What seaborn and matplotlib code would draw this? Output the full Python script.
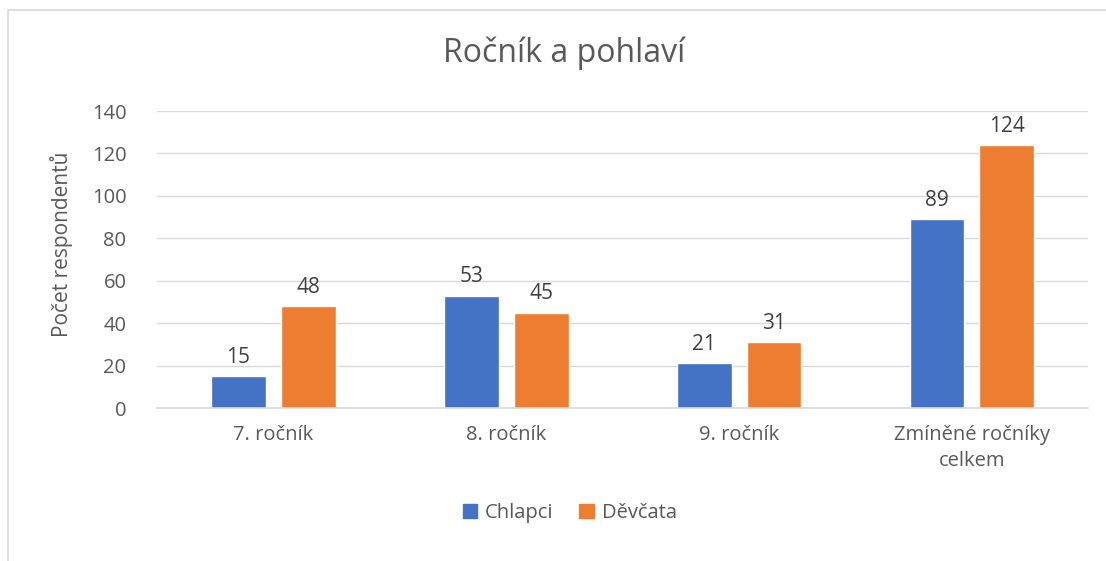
import matplotlib
matplotlib.use("Agg")
import matplotlib.pyplot as plt
import seaborn as sns
import pandas as pd
from matplotlib.patches import Rectangle, Patch

categories = ["7. ročník", "8. ročník", "9. ročník", "Zmíněné ročníky\ncelkem"]
series_names = ["Chlapci", "Děvčata"]
chlapci = [15, 53, 21, 89]
devcata = [48, 45, 31, 124]
yticks = [0, 20, 40, 60, 80, 100, 120, 140]

colors = ["#4472C4", "#ED7D31"]
text_color = "#595959"

sns.set_theme(style="white")
plt.rcParams["font.family"] = ["Open Sans", "DejaVu Sans"]

df = pd.DataFrame({
    "cat": categories * 2,
    "series": [series_names[0]] * 4 + [series_names[1]] * 4,
    "val": chlapci + devcata,
})

fig = plt.figure(figsize=(11.06, 5.61), dpi=100)
ax = fig.add_axes([0.142, 0.2727, 0.842, 0.5294])

sns.barplot(data=df, x="cat", y="val", hue="series", hue_order=series_names,
            order=categories, palette=colors, width=0.60, gap=0.214,
            saturation=1, ax=ax, legend=False)

ax.set_ylim(0, 140)
ax.set_yticks(yticks)
ax.set_xlim(-0.5, 3.5)
ax.yaxis.grid(True, color="#D9D9D9", linewidth=1)
ax.set_axisbelow(True)
for s in ["top", "right", "left"]:
    ax.spines[s].set_visible(False)
ax.spines["bottom"].set_color("#D9D9D9")
ax.spines["bottom"].set_linewidth(1.2)
ax.tick_params(axis="both", length=0, colors=text_color, labelsize=14.5)
ax.tick_params(axis="x", pad=12)
ax.tick_params(axis="y", pad=22)
for lbl in ax.get_xticklabels():
    lbl.set_linespacing(1.45)
ax.set_xlabel("")
ax.set_ylabel("Počet respondentů", fontsize=15, color=text_color)
ax.yaxis.set_label_coords(-0.09, 0.55)

for cont in ax.containers:
    ax.bar_label(cont, fmt="%d", padding=6, fontsize=15, color="#404040")

fig.text(0.51, 0.905, "Ročník a pohlaví", ha="center", va="center",
         fontsize=23, color=text_color)

handles = [Patch(facecolor=c, edgecolor=c) for c in colors]
fig.legend(handles, series_names, loc="center", bbox_to_anchor=(0.515, 0.086),
           ncol=2, frameon=False, fontsize=14.5, labelcolor=text_color,
           handlelength=0.7, handleheight=0.7, handletextpad=0.4, columnspacing=1.3)

border = Rectangle((8 / 1106, -0.1), 1.2, 1.1 - 10 / 561, transform=fig.transFigure,
                   fill=False, edgecolor="#D9D9D9", linewidth=1.2)
fig.patches.append(border)

fig.savefig("out.png", dpi=100, facecolor="white")
